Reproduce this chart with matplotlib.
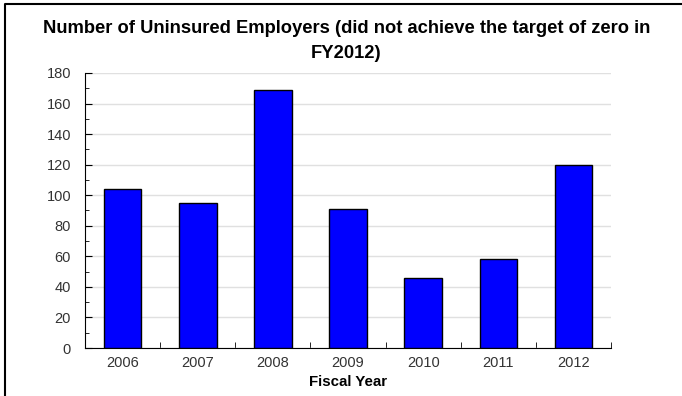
import matplotlib.pyplot as plt
from matplotlib.ticker import MultipleLocator, FixedLocator
from matplotlib.lines import Line2D

# Chart data
years = ['2006', '2007', '2008', '2009', '2010', '2011', '2012']
uninsured = [104, 95, 169, 91, 46, 58, 120]

plt.rcParams['font.family'] = ['Liberation Sans', 'DejaVu Sans']

fig = plt.figure(figsize=(6.82, 3.96), dpi=100)
ax = fig.add_axes([0.1246, 0.1212, 0.7714, 0.6945])

x = range(len(years))
ax.bar(x, uninsured, width=0.5, color='#0000ff', edgecolor='black', linewidth=1, zorder=3)

ax.set_xlim(-0.5, len(years) - 0.5)
ax.set_ylim(0, 180)
ax.set_xticks(list(x))
ax.set_xticklabels(years, fontsize=10.5, color='#333333')
ax.tick_params(axis='x', which='major', length=0, pad=6)
# category boundary ticks
ax.xaxis.set_minor_locator(FixedLocator([i + 0.5 for i in x]))
ax.tick_params(axis='x', which='minor', direction='in', length=4, color='black')

ax.yaxis.set_major_locator(MultipleLocator(20))
ax.yaxis.set_minor_locator(MultipleLocator(10))
ax.tick_params(axis='y', which='major', direction='in', length=5, labelsize=10.5,
               labelcolor='#333333', pad=10)
ax.tick_params(axis='y', which='minor', direction='in', length=3)

ax.grid(axis='y', color='#e0e0e0', linewidth=1, zorder=0)
ax.spines['top'].set_visible(False)
ax.spines['right'].set_visible(False)

ax.set_xlabel('Fiscal Year', fontsize=10.8, fontweight='bold', labelpad=3)

fig.text(0.508, 0.928, 'Number of Uninsured Employers (did not achieve the target of zero in',
         ha='center', va='center', fontsize=13.2, fontweight='bold')
fig.text(0.508, 0.866, 'FY2012)', ha='center', va='center', fontsize=13.2, fontweight='bold')

# outer border (top and left only)
fig.lines.append(Line2D([5 / 682, 5 / 682, 1], [0, 1 - 4 / 396, 1 - 4 / 396],
                        transform=fig.transFigure, color='black', linewidth=1.5))

fig.savefig('out.png', dpi=100)
